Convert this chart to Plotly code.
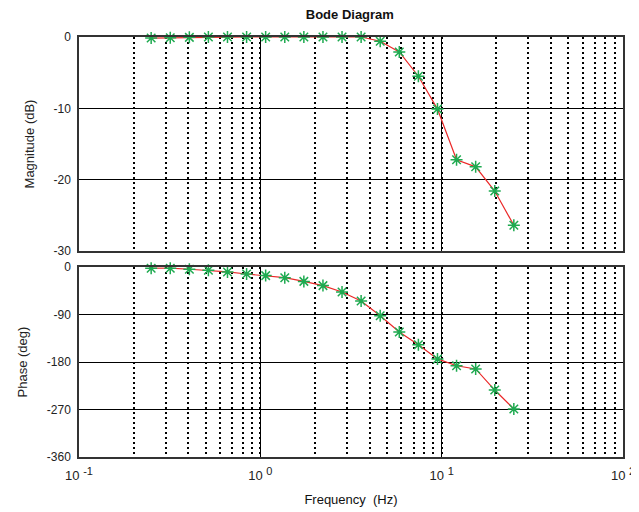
import plotly.graph_objects as go
from plotly.subplots import make_subplots

freq_hz = [0.25, 0.3186, 0.406, 0.517, 0.659, 0.840, 1.070, 1.364, 1.738, 2.215,
           2.822, 3.596, 4.582, 5.839, 7.441, 9.482, 12.08, 15.40, 19.62, 25.0]
magnitude_db = [-0.15, -0.1, -0.05, 0.0, 0.0, 0.0, 0.0, 0.0, 0.0, 0.0,
                0.0, 0.0, -0.6, -2.1, -5.5, -10.1, -17.2, -18.2, -21.6, -26.4]
phase_deg = [-2, -2, -4, -6, -9, -13, -16, -20, -27, -35,
             -47, -64, -92, -123, -147, -174, -187, -193, -233, -269]

x_tickvals = [0.1, 1, 10, 100]
x_exponents = ["-1", "0", "1", "2"]
mag_ticks = [0, -10, -20, -30]
mag_ticktext = ["0", "-10", "-20", "-30"]
phase_ticks = [0, -90, -180, -270, -360]
phase_ticktext = ["0", "-90", "-180", "-270", "-360"]

x_ticktext = ["10 <sup><span style='font-size:11px'>%s</span></sup>" % e for e in x_exponents]

line_red = "rgb(235,40,40)"
star_green = "rgb(30,170,80)"
font_fam = "Arial, Liberation Sans, Helvetica, sans-serif"

fig = make_subplots(rows=2, cols=1, shared_xaxes=False, vertical_spacing=0.04)

for row, yvals in ((1, magnitude_db), (2, phase_deg)):
    fig.add_trace(go.Scatter(
        x=freq_hz, y=yvals, mode="lines+markers",
        line=dict(color=line_red, width=1.2),
        marker=dict(symbol="asterisk-open", size=10, color=star_green,
                    line=dict(color=star_green, width=1.5)),
        cliponaxis=False, showlegend=False), row=row, col=1)

xcommon = dict(
    type="log", range=[-1, 2], tickvals=x_tickvals, ticktext=x_ticktext,
    showgrid=True, gridcolor="black", gridwidth=1,
    minor=dict(showgrid=True, gridcolor="black", gridwidth=2, griddash="2px,3px",
               dtick="D1", ticks=""),
    showline=True, linecolor="#333", linewidth=1.5, mirror=True,
    ticks="", zeroline=False, ticklabelstandoff=6,
    tickfont=dict(size=13, color="#222", family=font_fam),
)
ycommon = dict(
    showgrid=True, gridcolor="black", gridwidth=1,
    showline=True, linecolor="#333", linewidth=1.5, mirror=True,
    ticks="", zeroline=False, ticklabelstandoff=4,
    tickfont=dict(size=12, color="#222", family=font_fam),
    title_font=dict(size=13, color="#222", family=font_fam),
)

fig.update_xaxes(**xcommon)
fig.update_xaxes(showticklabels=False, row=1, col=1)
fig.update_xaxes(title=dict(text="Frequency  (Hz)", font=dict(size=13, color="#111", family=font_fam),
                            standoff=13), row=2, col=1)
fig.update_yaxes(**ycommon)
fig.update_yaxes(range=[-30, 0], tickvals=mag_ticks, ticktext=mag_ticktext,
                 title=dict(text="Magnitude (dB)", standoff=16), row=1, col=1)
fig.update_yaxes(range=[-360, 0], tickvals=phase_ticks, ticktext=phase_ticktext,
                 title=dict(text="Phase (deg)", standoff=16), row=2, col=1)

fig.update_layout(
    width=639, height=512,
    margin=dict(l=71, r=18, t=29, b=63),
    paper_bgcolor="white", plot_bgcolor="white",
    font=dict(family=font_fam, color="#222"),
    title=dict(text="<b>Bode Diagram</b>", x=0.535, xanchor="center", y=0.9875, yanchor="middle",
               font=dict(size=13, color="#111", family=font_fam)),
)
fig.layout.yaxis.domain = [0.4905, 1.0]
fig.layout.yaxis2.domain = [0.0, 0.452]

fig.write_html("out.html")
